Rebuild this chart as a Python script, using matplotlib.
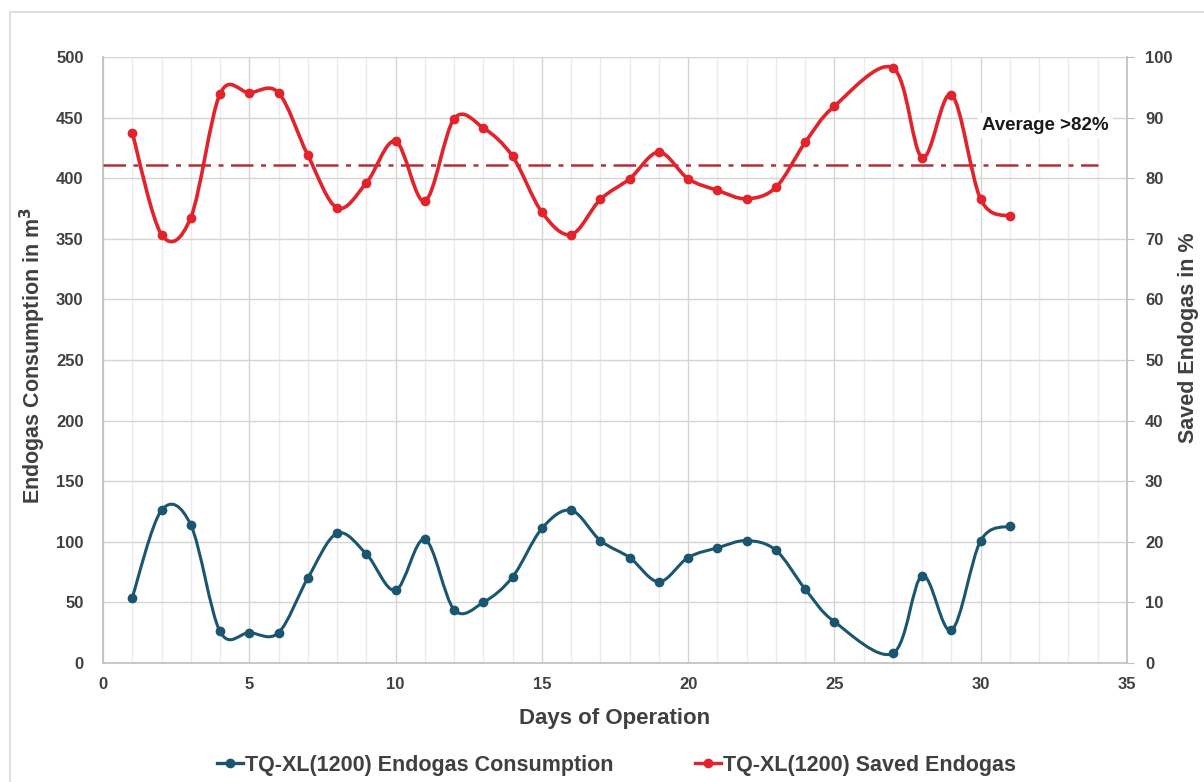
# Settings
xSizeInches = 12.04
ySizeInches = 7.82
dpi = 100

# Data (day 26 has no point)
days = [1, 2, 3, 4, 5, 6, 7, 8, 9, 10, 11, 12, 13, 14, 15, 16, 17, 18, 19, 20,
        21, 22, 23, 24, 25, 27, 28, 29, 30, 31]
consumption = [54, 126, 114, 26, 25, 25, 70, 107, 90, 60, 102, 44, 50, 71, 111, 126,
               101, 87, 67, 87, 95, 101, 93, 61, 34, 8, 72, 27, 101, 113]  # m3
savedPct = [87.5, 70.7, 73.5, 93.9, 94.1, 94.1, 83.8, 75.1, 79.2, 86.1, 76.2, 89.8,
            88.3, 83.6, 74.4, 70.7, 76.5, 79.9, 84.3, 79.9, 78.0, 76.6, 78.5, 85.9,
            91.9, 98.2, 83.4, 93.8, 76.5, 73.7]  # %
averagePct = 82.2
averageSpan = [0, 34]
averageText = 'Average >82%'

labels = ['TQ-XL(1200) Endogas Consumption', 'TQ-XL(1200) Saved Endogas']
xlab = 'Days of Operation'
ylabLeft = 'Endogas Consumption in m$^3$'
ylabRight = 'Saved Endogas in %'

blue = '#1B5670'
red = '#E2232B'
avgColor = '#B3303A'
textColor = '#404040'
gridMajor = '#D4D4D4'
gridMinor = '#EBEBEB'

################################################################
import numpy as np
import matplotlib.pyplot as plt
from matplotlib.path import Path
from matplotlib.patches import PathPatch, Rectangle
from matplotlib.lines import Line2D

plt.rcParams['font.family'] = ['Liberation Sans', 'DejaVu Sans']
plt.rcParams['font.weight'] = 'bold'

def smoothPath(x, y):
    # Excel-like smoothed line: Catmull-Rom segments as cubic Bezier curves
    p = np.column_stack([x, y]).astype(float)
    n = len(p)
    verts = [p[0]]
    codes = [Path.MOVETO]
    for i in range(n - 1):
        p0 = p[i - 1] if i > 0 else p[i]
        p3 = p[i + 2] if i + 2 < n else p[i + 1]
        c1 = p[i] + (p[i + 1] - p0) / 6.0
        c2 = p[i + 1] - (p3 - p[i]) / 6.0
        verts += [c1, c2, p[i + 1]]
        codes += [Path.CURVE4] * 3
    return Path(verts, codes)

def drawSeries(ax, x, y, color, lw):
    ax.add_patch(PathPatch(smoothPath(x, y), facecolor='none', edgecolor=color, lw=lw,
                           capstyle='round', joinstyle='round', zorder=3))
    ax.plot(x, y, 'o', color=color, ms=6, zorder=4)

fig = plt.figure(figsize=(xSizeInches, ySizeInches), dpi=dpi)
fig.patches.append(Rectangle((10 / 1204, -0.1), 1.2, 1.1 - 12 / 782, transform=fig.transFigure,
                             fill=False, edgecolor='#D9D9D9', lw=1.2))

ax = fig.add_axes([103 / 1204, 1 - 663 / 782, 1024 / 1204, 606 / 782])
ax2 = ax.twinx()

ax.set_xlim(0, 35)
ax.set_ylim(0, 500)
ax2.set_ylim(0, 100)
ax.set_xticks(np.arange(0, 36, 5))
ax.set_xticks(np.arange(0, 36, 1), minor=True)
ax.set_yticks(np.arange(0, 501, 50))
ax2.set_yticks(np.arange(0, 101, 10))

ax.grid(True, which='major', axis='x', color=gridMajor, lw=1.0, zorder=0)
ax.grid(True, which='minor', axis='x', color=gridMinor, lw=1.0, zorder=0)
ax.grid(True, which='major', axis='y', color=gridMajor, lw=1.0, zorder=0)
ax.set_axisbelow(True)

for a in (ax, ax2):
    for s in a.spines.values():
        s.set_color('#BFBFBF')
        s.set_linewidth(1.2)
    a.spines['top'].set_visible(False)
ax.spines['right'].set_visible(False)
ax2.spines['left'].set_visible(False)
ax2.spines['bottom'].set_visible(False)

ax.tick_params(axis='both', which='both', length=0, labelsize=12, colors=textColor)
ax.tick_params(axis='y', pad=14)
ax.tick_params(axis='x', pad=10)
ax2.tick_params(axis='y', length=5, color='#BFBFBF', labelsize=12, colors=textColor, pad=8)
for t in ax.get_xticklabels() + ax.get_yticklabels() + ax2.get_yticklabels():
    t.set_fontweight('bold')
    t.set_color(textColor)

drawSeries(ax, days, consumption, blue, 2.2)
ax2.plot(averageSpan, [averagePct, averagePct], color=avgColor, lw=1.8,
         linestyle=(0, (9, 3, 2, 3)), zorder=2)
drawSeries(ax2, days, savedPct, red, 2.6)
ax2.text(30.05, 88.7, averageText, fontsize=13.5, fontweight='bold', color='#1A1A1A',
         va='center', ha='left', bbox=dict(facecolor='white', edgecolor='none', pad=3), zorder=5)

ax.set_xlabel(xlab, fontsize=16, fontweight='bold', color=textColor, va='top')
ax.xaxis.set_label_coords(0.5, -0.074)
ax.set_ylabel(ylabLeft, fontsize=15.5, fontweight='bold', color=textColor)
ax.yaxis.set_label_coords(-0.054, 0.508)
ax2.set_ylabel(ylabRight, fontsize=15.5, fontweight='bold', color=textColor)
ax2.yaxis.set_label_coords(1.0498, 0.536)

handles = [Line2D([], [], color=blue, lw=2.4, marker='o', ms=6),
           Line2D([], [], color=red, lw=2.4, marker='o', ms=6)]
leg = fig.legend(handles, labels, loc='center', bbox_to_anchor=(0.512, 1 - 765 / 782), ncol=2,
                 frameon=False, fontsize=15.5, handlelength=1.2, handletextpad=0.1,
                 columnspacing=3.8, numpoints=1)
for t in leg.get_texts():
    t.set_color(textColor)
    t.set_fontweight('bold')

fig.savefig('out.png', dpi=dpi)
